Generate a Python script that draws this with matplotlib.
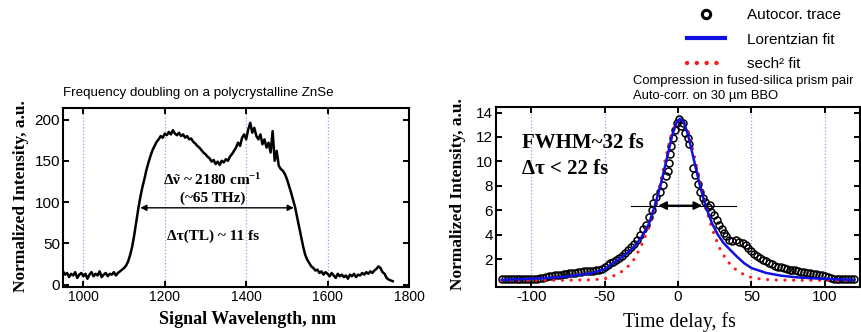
import numpy as np
import matplotlib
matplotlib.use("Agg")
import matplotlib.pyplot as plt
from matplotlib.lines import Line2D

plt.rcParams['font.family'] = ['Liberation Sans', 'DejaVu Sans']
plt.rcParams['mathtext.fontset'] = 'custom'
plt.rcParams['mathtext.rm'] = 'Liberation Serif'
plt.rcParams['mathtext.bf'] = 'Liberation Serif:bold'
plt.rcParams['mathtext.it'] = 'Liberation Serif:italic'
plt.rcParams['axes.unicode_minus'] = False

# --- left panel: SHG spectrum (5 nm steps starting at 950 nm) ---
spec_start, spec_step = 950, 5
spec_intensity = [
    16, 12, 14, 9, 13, 11, 15, 8, 12, 14,
    10, 13, 7, 12, 15, 10, 13, 11, 16, 9,
    12, 14, 10, 13, 12, 15, 11, 14, 16, 18,
    20, 23, 28, 36, 46, 60, 76, 92, 106, 118,
    128, 139, 148, 156, 163, 168, 173, 176, 180, 178,
    183, 181, 185, 182, 187, 183, 181, 184, 180, 182,
    178, 180, 176, 177, 173, 171, 168, 166, 163, 160,
    158, 155, 153, 149, 151, 146, 149, 145, 150, 148,
    152, 150, 155, 158, 162, 166, 172, 168, 178, 182,
    176, 188, 196, 184, 190, 180, 176, 182, 170, 176,
    166, 172, 160, 186, 150, 162, 144, 140, 138, 134,
    128, 120, 112, 103, 94, 82, 70, 58, 46, 36,
    30, 26, 22, 20, 17, 18, 14, 16, 12, 15,
    13, 10, 14, 11, 8, 13, 10, 12, 9, 11,
    7, 12, 10, 13, 9, 12, 11, 14, 12, 15,
    13, 16, 14, 17, 19, 22, 20, 15, 13, 8,
    6, 5, 4,
]
wavelength = np.arange(len(spec_intensity)) * spec_step + spec_start
fwhm_nm = [1140, 1517]
fwhm_level = 93

# --- right panel: autocorrelation ---
t_trace = [
    -120, -118, -116, -114, -112, -110, -108, -106, -104, -102,
    -100, -98, -96, -94, -92, -90, -88, -86, -84, -82,
    -80, -78, -76, -74, -72, -70, -68, -66, -64, -62,
    -60, -58, -56, -54, -52, -50, -48, -46, -44, -42,
    -40, -38, -36, -34, -32, -30, -28, -26, -24, -22,
    -20, -18, -17, -15, -12.5, -10, -8, -7, -6, -5.5,
    -4.5, -3.5, -2, -1, 0.5, 2.3, 3.4, 4.5, 6.8, 7.5,
    10.2, 11.3, 13.5, 14.7, 17, 18.5, 20.3, 21.5, 22.6, 24.8,
    26.5, 28.2, 30, 31.6, 33, 35, 37, 39.5, 41.5, 44,
    46, 48, 50, 52, 54, 56, 58, 60, 62, 64,
    66, 68, 70, 72, 74, 76, 78, 80, 82, 84,
    86, 88, 90, 92, 94, 96, 98, 100, 102, 104,
    106, 108, 110, 112, 114, 116, 118, 120,
]
i_trace = [
    0.40, 0.42, 0.38, 0.41, 0.40, 0.43, 0.39, 0.40, 0.42, 0.41,
    0.42, 0.44, 0.43, 0.46, 0.50, 0.55, 0.62, 0.68, 0.70, 0.74,
    0.76, 0.80, 0.82, 0.86, 0.90, 0.92, 0.96, 1.00, 1.02, 1.04,
    1.06, 1.08, 1.10, 1.14, 1.22, 1.35, 1.52, 1.68, 1.80, 1.95,
    2.08, 2.30, 2.52, 2.78, 3.02, 3.30, 3.62, 4.00, 4.45, 4.85,
    5.50, 6.05, 6.60, 7.10, 7.50, 8.10, 8.80, 9.25, 9.90, 10.6,
    11.3, 11.9, 12.6, 13.15, 13.45, 12.9, 13.15, 12.3, 11.9, 11.4,
    9.5, 8.9, 8.2, 7.5, 7.05, 6.7, 6.3, 6.45, 5.9, 5.6,
    5.2, 4.8, 4.5, 4.2, 3.9, 3.6, 3.5, 3.6, 3.4, 3.35,
    3.2, 2.95, 2.65, 2.45, 2.25, 2.1, 1.95, 1.85, 1.72, 1.6,
    1.5, 1.42, 1.35, 1.3, 1.24, 1.16, 1.1, 1.15, 1.05, 1.0,
    0.96, 0.92, 0.88, 0.85, 0.8, 0.76, 0.72, 0.66, 0.56, 0.48,
    0.43, 0.4, 0.4, 0.38, 0.4, 0.42, 0.4, 0.42,
]
t_lor = [-120, -100, -80, -60, -50, -40, -35, -30, -25, -20, -16, -12, -8, -4, -1,
         1.5, 4, 7, 11, 15, 19, 23, 27, 31, 35, 40, 45, 50, 60, 70, 80, 90, 100, 110, 120]
i_lor = [0.33, 0.42, 0.55, 0.85, 1.2, 2.05, 2.5, 3.0, 3.8, 4.85, 6.3, 8.0, 10.05, 12.1, 13.2,
         13.5, 13.2, 12.1, 10.05, 8.0, 6.3, 5.0, 4.05, 3.35, 2.85, 2.25, 1.7, 1.3, 0.9, 0.68,
         0.55, 0.47, 0.42, 0.37, 0.33]
t_sech = [-120, -80, -60, -50, -45, -40, -35, -30, -25, -20, -16, -12, -8, -4, -1,
          1.5, 4, 7, 11, 15, 19, 23, 28, 33, 38, 43, 48, 53, 63, 80, 120]
i_sech = [0.3, 0.3, 0.33, 0.42, 0.6, 0.88, 1.3, 2.0, 3.1, 4.6, 6.2, 8.3, 10.5, 12.4, 13.2,
          13.45, 13.2, 12.4, 10.5, 8.3, 6.2, 4.6, 3.0, 1.95, 1.3, 0.88, 0.6, 0.45, 0.33, 0.3, 0.3]
half_line = [-32, 39.5]
half_arrow = [-13.5, 16.5]
half_level = 6.4

W, H = 862, 332
fig = plt.figure(figsize=(W / 100, H / 100), dpi=100)

serif = ['Liberation Serif', 'DejaVu Serif']
grid_col = '#9a9ae6'


def style_axes(ax, xsize, ysize):
    for s in ax.spines.values():
        s.set_linewidth(1.5)
    ax.tick_params(direction='in', length=4, width=1.4, top=True, right=True, pad=2)
    ax.tick_params(axis='x', labelsize=xsize)
    ax.tick_params(axis='y', labelsize=ysize)
    ax.grid(axis='x', color=grid_col, linestyle=':', linewidth=0.9)
    ax.set_axisbelow(True)


# left panel
ax1 = fig.add_axes([63 / W, 45 / H, 346 / W, 179 / H])
ax1.plot(wavelength, spec_intensity, color='black', lw=1.8)
ax1.set_xlim(950, 1800)
ax1.set_ylim(-3, 214)
ax1.set_xticks([1000, 1200, 1400, 1600, 1800])
ax1.set_yticks([0, 50, 100, 150, 200])
style_axes(ax1, 10, 11)
ax1.annotate('', xy=(fwhm_nm[0], fwhm_level), xytext=(fwhm_nm[1], fwhm_level),
             arrowprops=dict(arrowstyle='<|-|>', color='black', lw=1.0,
                             mutation_scale=9, shrinkA=0, shrinkB=0))
ax1.text(1318, 127, r'$\mathbf{\Delta}\tilde{\mathbf{\nu}}$ ~ 2180 cm$^{\mathbf{-1}}$',
         ha='center', va='center', fontsize=11, fontweight='bold', family=serif)
ax1.text(1318, 105, '(~65 THz)', ha='center', va='center',
         fontsize=11, fontweight='bold', family=serif)
ax1.text(1318, 58, '\u0394\u03c4(TL) ~ 11 fs', ha='center', va='center',
         fontsize=11, fontweight='bold', family=serif)

fig.text(63 / W, 1 - 93 / H, 'Frequency doubling on a polycrystalline ZnSe',
         fontsize=9.6, va='center', ha='left')
fig.text(248 / W, 1 - 320 / H, 'Signal Wavelength, nm', fontsize=13, fontweight='bold',
         family=serif, ha='center', va='center')
fig.text(21 / W, 1 - 196 / H, 'Normalized Intensity, a.u.', fontsize=12.5, fontweight='bold',
         family=serif, ha='center', va='center', rotation=90)

# right panel
ax2 = fig.add_axes([496 / W, 45 / H, 364 / W, 180 / H])
ax2.plot(t_sech, i_sech, color='#ff1a1a', lw=2.3, linestyle=(0, (0.01, 2.7)),
         dash_capstyle='round', zorder=3)
ax2.plot(t_trace, i_trace, linestyle='none', marker='o', ms=5, mfc='none',
         mec='black', mew=1.1, zorder=2)
ax2.plot(t_lor, i_lor, color='#1010e0', lw=1.8, zorder=4)
ax2.plot(half_line, [half_level, half_level], color='black', lw=0.8, zorder=5)
ax2.annotate('', xy=(half_arrow[0], half_level), xytext=(half_arrow[1], half_level),
             arrowprops=dict(arrowstyle='<|-|>', color='black', lw=1.4,
                             mutation_scale=12, shrinkA=0, shrinkB=0), zorder=6)
ax2.set_xlim(-124, 124)
ax2.set_ylim(-0.25, 14.45)
ax2.set_xticks([-100, -50, 0, 50, 100])
ax2.set_yticks([2, 4, 6, 8, 10, 12, 14])
style_axes(ax2, 11, 11)
ax2.text(-106, 11.55, 'FWHM~32 fs', fontsize=15, fontweight='bold', family=serif,
         ha='left', va='center')
ax2.text(-106, 9.35, '\u0394\u03c4 < 22 fs', fontsize=15, fontweight='bold', family=serif,
         ha='left', va='center')

fig.text(679 / W, 1 - 322 / H, 'Time delay, fs', fontsize=14.3, family=serif,
         ha='center', va='center')
fig.text(458 / W, 1 - 194 / H, 'Normalized Intensity, a.u.', fontsize=12.5, fontweight='bold',
         family=serif, ha='center', va='center', rotation=90)
fig.text(633 / W, 1 - 81 / H, 'Compression in fused-silica prism pair',
         fontsize=9.4, ha='left', va='center')
fig.text(633 / W, 1 - 96 / H, 'Auto-corr. on 30 \u00b5m BBO',
         fontsize=9.4, ha='left', va='center')

handles = [
    Line2D([], [], linestyle='none', marker='o', ms=6, mfc='none', mec='black', mew=2.2),
    Line2D([], [], color='#1010e0', lw=3),
    Line2D([], [], color='#ff1a1a', lw=3.2, linestyle=(0, (0.01, 2.2)), dash_capstyle='round'),
]
labels = ['Autocor. trace', 'Lorentzian fit', 'sech\u00b2 fit']
fig.legend(handles, labels, loc='upper left', bbox_to_anchor=(687 / W, 1 - 8 / H),
           bbox_transform=fig.transFigure, frameon=False, fontsize=11,
           handlelength=2.5, handletextpad=1.45, labelspacing=0.7, borderpad=0,
           borderaxespad=0)

fig.savefig('out.png', dpi=100)
